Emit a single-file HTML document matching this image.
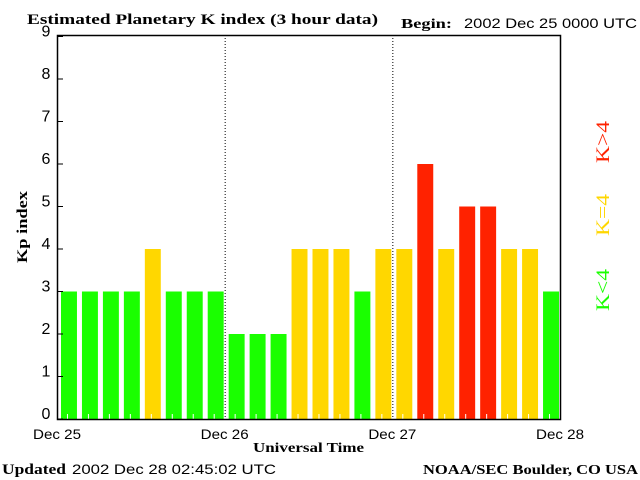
<!DOCTYPE html>
<html><head><meta charset="utf-8"><style>
body{margin:0;background:#fff}
svg{display:block;font-family:"Liberation Serif",serif}
</style></head><body>
<svg id="chart" width="640" height="480" xmlns="http://www.w3.org/2000/svg">
<text x="27" y="24" font-size="15" font-weight="bold" textLength="351" lengthAdjust="spacingAndGlyphs">Estimated Planetary K index (3 hour data)</text>
<text x="401" y="28" font-size="14" font-weight="bold" textLength="51" lengthAdjust="spacingAndGlyphs">Begin:</text>
<text x="464" y="28" font-size="14" font-family="Liberation Sans,sans-serif" textLength="173" lengthAdjust="spacingAndGlyphs">2002 Dec 25 0000 UTC</text>
<g id="plot"></g>
<text transform="translate(27,227) rotate(-90)" text-anchor="middle" font-size="15" font-weight="bold" textLength="72" lengthAdjust="spacingAndGlyphs">Kp index</text>
<text x="253" y="452" font-size="14" font-weight="bold" textLength="111" lengthAdjust="spacingAndGlyphs">Universal Time</text>
<text transform="translate(609,290) rotate(-90)" text-anchor="middle" font-size="19" fill="#1aff00" textLength="42" lengthAdjust="spacingAndGlyphs">K&lt;4</text>
<text transform="translate(609,215) rotate(-90)" text-anchor="middle" font-size="19" fill="#ffd700" textLength="42" lengthAdjust="spacingAndGlyphs">K=4</text>
<text transform="translate(609,142) rotate(-90)" text-anchor="middle" font-size="19" fill="#ff2200" textLength="42" lengthAdjust="spacingAndGlyphs">K&gt;4</text>
<text x="2" y="474" font-size="15" font-weight="bold" textLength="64" lengthAdjust="spacingAndGlyphs">Updated</text>
<text x="72" y="474" font-size="14" font-family="Liberation Sans,sans-serif" textLength="204" lengthAdjust="spacingAndGlyphs">2002 Dec 28 02:45:02 UTC</text>
<text x="423" y="474" font-size="14" font-weight="bold" textLength="215" lengthAdjust="spacingAndGlyphs">NOAA/SEC Boulder, CO USA</text>
</svg>
<script>
const dayLabels=["Dec 25","Dec 26","Dec 27","Dec 28"];
const kpValues=[3,3,3,3,4,3,3,3, 2,2,2,4,4,4,3,4, 4,6,4,5,5,4,4,3];
const yTicks=[0,1,2,3,4,5,6,7,8,9];
const NS="http://www.w3.org/2000/svg";
const g=document.getElementById('plot');
const L=57,R=560,T=35,B=419,unit=42.5;
const slot=(R-L)/24;
const xs=i=>L+i*slot;
const ys=v=>B-v*unit;
function mk(t,a){const e=document.createElementNS(NS,t);for(const k in a)e.setAttribute(k,a[k]);g.appendChild(e);return e;}
kpValues.forEach((v,i)=>{
  const c=v<4?"#1aff00":(v==4?"#ffd700":"#ff2200");
  const r=mk('rect',{x:xs(i)+4,y:ys(v),width:slot-5,height:B-ys(v),fill:c});
  
  
  const t=mk('line',{x1:xs(i)+slot/2,x2:xs(i)+slot/2,y1:B,y2:B-5,stroke:"#fff"});
  
  
});
for(let d=1;d<3;d++){
  const l=mk('line',{x1:xs(d*8)+0.5,x2:xs(d*8)+0.5,y1:T,y2:B,stroke:"#000","stroke-dasharray":"1,2"});
  
  
}
const frame=mk('rect',{x:L+0.5,y:T+0.5,width:R-L,height:B-T,fill:"none",stroke:"#000","stroke-width":1.5});


yTicks.forEach(v=>{
  const tk=mk('line',{x1:L,x2:L+6,y1:ys(v),y2:ys(v),stroke:"#000"});
  
  
  const tx=mk('text',{x:46,y:ys(v)+0,"text-anchor":"middle","font-size":"16","font-family":"Liberation Sans,sans-serif"});
  tx.textContent=v;
  
  
});
dayLabels.forEach((s,d)=>{
  const tx=mk('text',{x:xs(d*8)-24,y:439,"font-size":"14","font-family":"Liberation Sans,sans-serif",textLength:"48",lengthAdjust:"spacingAndGlyphs"});
  tx.textContent=s;
  
  
});
</script>
</body></html>
